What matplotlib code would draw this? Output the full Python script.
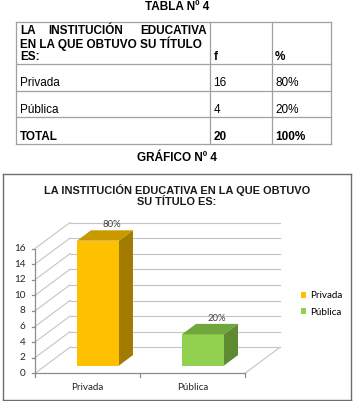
import matplotlib
matplotlib.use("Agg")
import matplotlib.pyplot as plt
from matplotlib.patches import Polygon, Patch
from matplotlib.lines import Line2D

# ---------------- data ----------------
table_title = "TABLA Nº 4"
chart_heading = "GRÁFICO Nº 4"
header_col1 = ["LA INSTITUCIÓN EDUCATIVA", "EN LA QUE OBTUVO SU TÍTULO", "ES:"]
header_f = "f"
header_pct = "%"
categories = ["Privada", "Pública"]
freq = [16, 4]
percent = ["80%", "20%"]
total_label = "TOTAL"
total_f = "20"
total_pct = "100%"
chart_title = "LA INSTITUCIÓN EDUCATIVA EN LA QUE OBTUVO\nSU TÍTULO ES:"
y_ticks = [0, 2, 4, 6, 8, 10, 12, 14, 16]
front_colors = ["#FFC000", "#92D050"]
top_colors = ["#C99A00", "#71A63D"]
side_colors = ["#A27C00", "#5E8A31"]

W, H = 354, 401
fig = plt.figure(figsize=(W / 100, H / 100), dpi=100)
fig.patch.set_facecolor("white")

def fx(px):
    return px / W

def fy(py):
    return 1 - py / H

TFONT = "Liberation Sans"
FS = 8.5

# ---------------- table ----------------
fig.text(fx(177), fy(7), table_title, ha="center", va="center",
         fontsize=FS, fontweight="bold", family=TFONT)

tl, tr = 15.7, 331
col_x = [15.7, 210, 272, 331]
row_y = [22.3, 64.3, 90.7, 117.3, 144]
lc = "#A0A0A0"
for y in row_y:
    fig.add_artist(Line2D([fx(tl), fx(tr)], [fy(y), fy(y)], color=lc, lw=0.9))
for x in col_x:
    fig.add_artist(Line2D([fx(x), fx(x)], [fy(row_y[0]), fy(row_y[-1])], color=lc, lw=0.9))

# header col1 (justified first line)
w1 = header_col1[0].split()
fig.text(fx(20), fy(30.7), w1[0], ha="left", va="center", fontsize=FS,
         fontweight="bold", family=TFONT)
fig.text(fx(48.5), fy(30.7), w1[1], ha="left", va="center", fontsize=FS,
         fontweight="bold", family=TFONT)
fig.text(fx(206.5), fy(30.7), w1[2], ha="right", va="center", fontsize=FS,
         fontweight="bold", family=TFONT)
fig.text(fx(20), fy(43.5), header_col1[1], ha="left", va="center", fontsize=FS,
         fontweight="bold", family=TFONT)
fig.text(fx(20), fy(57.3), header_col1[2], ha="left", va="center", fontsize=FS,
         fontweight="bold", family=TFONT)
fig.text(fx(213.5), fy(57.3), header_f, ha="left", va="center", fontsize=FS,
         fontweight="bold", family=TFONT)
fig.text(fx(275), fy(57.3), header_pct, ha="left", va="center", fontsize=FS,
         fontweight="bold", family=TFONT)

body_y = [83.3, 110.0]
for yy, c, f, p in zip(body_y, categories, freq, percent):
    fig.text(fx(20), fy(yy), c, ha="left", va="center", fontsize=FS, family=TFONT)
    fig.text(fx(213.5), fy(yy), str(f), ha="left", va="center", fontsize=FS, family=TFONT)
    fig.text(fx(275), fy(yy), p, ha="left", va="center", fontsize=FS, family=TFONT)
fig.text(fx(20), fy(136.7), total_label, ha="left", va="center", fontsize=FS,
         fontweight="bold", family=TFONT)
fig.text(fx(213.5), fy(136.7), total_f, ha="left", va="center", fontsize=FS,
         fontweight="bold", family=TFONT)
fig.text(fx(275), fy(136.7), total_pct, ha="left", va="center", fontsize=FS,
         fontweight="bold", family=TFONT)

fig.text(fx(177), fy(158), chart_heading, ha="center", va="center",
         fontsize=FS, fontweight="bold", family=TFONT)

# ---------------- chart box ----------------
box = [3, 174, 351, 400]
for (x0, y0, x1, y1) in [(box[0], box[1], box[2], box[1]), (box[2], box[1], box[2], box[3]),
                         (box[0], box[3], box[2], box[3]), (box[0], box[1], box[0], box[3])]:
    fig.add_artist(Line2D([fx(x0), fx(x1)], [fy(y0), fy(y1)], color="#6E6E6E", lw=1.0))

fig.text(fx(177), fy(195.5), chart_title, ha="center", va="center",
         fontsize=7.9, fontweight="bold", family=TFONT, linespacing=1.15, color="#1a1a1a")

# ---------------- 3D-like axes ----------------
CAT_PX, UNIT_PX, DX_PX, DY_PX = 105.0, 7.8, 35.0, 26.0
DX = DX_PX / CAT_PX
DY = DY_PX / UNIT_PX
x0_px, y0_px = 35.0, 373.3
ytop = 20.0
ncat = len(categories)
ax = fig.add_axes([fx(x0_px), fy(y0_px), (ncat * CAT_PX + DX_PX) / W, ytop * UNIT_PX / H])
ax.set_xlim(0, ncat + DX)
ax.set_ylim(0, ytop)
ax.axis("off")

def P(x, v, d):
    return (x + d * DX, v + d * DY)

grid_c = "#C4C4C4"
axis_c = "#8C8C8C"
ymax = max(y_ticks)
for v in y_ticks:
    a, b = P(0, v, 1), P(ncat, v, 1)
    ax.plot([a[0], b[0]], [a[1], b[1]], color=grid_c, lw=0.8, clip_on=False)
    a, b = P(0, v, 0), P(0, v, 1)
    ax.plot([a[0], b[0]], [a[1], b[1]], color=grid_c, lw=0.8, clip_on=False)
# floor right edge
a, b = P(ncat, 0, 0), P(ncat, 0, 1)
ax.plot([a[0], b[0]], [a[1], b[1]], color=grid_c, lw=0.8, clip_on=False)
# front axes
ax.plot([0, ncat], [0, 0], color=axis_c, lw=0.9, clip_on=False)
ax.plot([0, 0], [0, ymax], color=axis_c, lw=0.9, clip_on=False)
tick_x = 3.5 / CAT_PX
tick_y = 3.5 / UNIT_PX
for v in y_ticks:
    ax.plot([-tick_x, 0], [v, v], color=axis_c, lw=0.9, clip_on=False)
    ax.text(-9.5 / CAT_PX, v, str(v), ha="right", va="center", fontsize=7.2,
            family="Lato", color="#262626")
for i in range(ncat + 1):
    ax.plot([i, i], [0, -tick_y], color=axis_c, lw=0.9, clip_on=False)

BW = 0.4
D0, D1 = 0.3, 0.7
for i, (v, lab) in enumerate(zip(freq, percent)):
    c = i + 0.5
    ax.bar(c + D0 * DX, v, width=BW, bottom=D0 * DY, color=front_colors[i],
           edgecolor="none", clip_on=False, zorder=3)
    top = [P(c - BW / 2, v, D0), P(c + BW / 2, v, D0), P(c + BW / 2, v, D1), P(c - BW / 2, v, D1)]
    side = [P(c + BW / 2, 0, D0), P(c + BW / 2, v, D0), P(c + BW / 2, v, D1), P(c + BW / 2, 0, D1)]
    ax.add_patch(Polygon(top, closed=True, facecolor=top_colors[i], edgecolor="none",
                         zorder=3, clip_on=False))
    ax.add_patch(Polygon(side, closed=True, facecolor=side_colors[i], edgecolor="none",
                         zorder=3, clip_on=False))
    lx, ly = P(c, v, D1)
    ax.annotate(lab, (lx, ly), xytext=(0, 5.5), textcoords="offset pixels",
                ha="center", va="center", fontsize=6.8, family="Lato",
                color="#404040", zorder=5, annotation_clip=False)
    ax.text(c, -14 / UNIT_PX, categories[i], ha="center", va="center", fontsize=7.1,
            family="Lato", color="#262626")

handles = [Patch(facecolor=front_colors[i], edgecolor="none", label=categories[i])
           for i in range(ncat)]
fig.legend(handles=handles, loc="center left", bbox_to_anchor=(fx(301), fy(304)),
           frameon=False, prop={"family": "Lato", "size": 7.1},
           handlelength=0.55, handleheight=0.55, handletextpad=0.4,
           labelspacing=0.8, borderaxespad=0, borderpad=0)

fig.savefig("out.png", dpi=100, facecolor="white")
